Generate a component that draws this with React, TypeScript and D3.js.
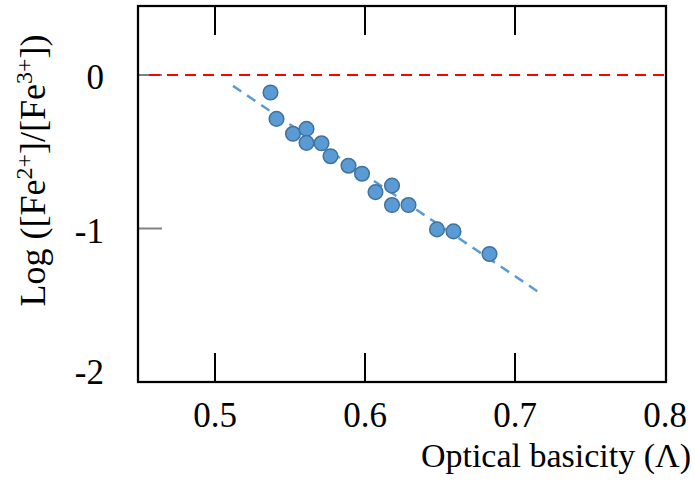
import React from "react";
import * as d3 from "d3";

// optical basicity (x) vs log([Fe2+]/[Fe3+]) (y)
const basicity = [
  0.537, 0.541, 0.552, 0.561, 0.561, 0.571, 0.577, 0.589, 0.598, 0.607,
  0.618, 0.618, 0.629, 0.648, 0.659, 0.683,
];
const logRatio = [
  -0.114, -0.286, -0.383, -0.351, -0.442, -0.445, -0.529, -0.591, -0.643,
  -0.763, -0.721, -0.847, -0.847, -1.006, -1.019, -1.166,
];

// dashed linear trend, drawn between these two end points
const trendX = [0.512, 0.716];
const trendY = [-0.071, -1.416];

// red reference line at log = 0
const refX = [0.456, 0.8];
const refY = [0, 0];

const xTicks = [0.5, 0.6, 0.7, 0.8];
const xTickLabels = ["0.5", "0.6", "0.7", "0.8"];
const yTicks = [0, -1, -2];
const yTickLabels = ["0", "-1", "-2"];

const W = 695;
const H = 486;
const plot = { left: 138, right: 666, top: 6, bottom: 382 };

export default function App() {
  // 0.5 -> 215px, 0.8 -> 665px
  const x = d3.scaleLinear().domain([0.5, 0.8]).range([215, 665]);
  // 0 -> 75px, -2 -> 382px
  const y = d3.scaleLinear().domain([0, -2]).range([75, 382]);

  const seg = d3
    .line<[number, number]>()
    .x((d) => x(d[0]))
    .y((d) => y(d[1]));

  const trendPath = seg(trendX.map((v, i) => [v, trendY[i]] as [number, number]));
  const refPath = seg(refX.map((v, i) => [v, refY[i]] as [number, number]));

  const font = "'Liberation Serif', 'Times New Roman', serif";

  return (
    <svg
      width={W}
      height={H}
      style={{ position: "absolute", left: 0, top: 0, background: "#fff" }}
    >
      {/* y ticks (grey, inward) */}
      {yTicks.map((t) => (
        <line
          key={"yt" + t}
          x1={plot.left}
          x2={plot.left + 24}
          y1={y(t)}
          y2={y(t)}
          stroke="#808080"
          strokeWidth={2}
        />
      ))}

      {/* x ticks top + bottom, inward */}
      {xTicks.slice(0, 3).map((t) => (
        <g key={"xt" + t}>
          <line
            x1={x(t)}
            x2={x(t)}
            y1={plot.bottom}
            y2={plot.bottom - 29}
            stroke="#000"
            strokeWidth={2}
          />
          <line
            x1={x(t)}
            x2={x(t)}
            y1={plot.top}
            y2={plot.top + 29}
            stroke="#000"
            strokeWidth={2}
          />
        </g>
      ))}

      {/* reference line */}
      <path
        d={refPath || ""}
        fill="none"
        stroke="#ff0000"
        strokeWidth={2}
        strokeDasharray="11,7"
      />

      {/* trend line */}
      <path
        d={trendPath || ""}
        fill="none"
        stroke="#5b9bd5"
        strokeWidth={2.5}
        strokeDasharray="10,7"
      />

      {/* points */}
      {basicity.map((b, i) => (
        <circle
          key={i}
          cx={x(b)}
          cy={y(logRatio[i])}
          r={7.3}
          fill="#5b9bd5"
          stroke="#41719c"
          strokeWidth={1.5}
        />
      ))}

      {/* frame */}
      <rect
        x={plot.left}
        y={plot.top}
        width={plot.right - plot.left}
        height={plot.bottom - plot.top}
        fill="none"
        stroke="#000"
        strokeWidth={2.25}
      />

      {/* x tick labels */}
      {xTicks.map((t, i) => (
        <text
          key={"xl" + t}
          x={x(t)}
          y={427}
          textAnchor="middle"
          fontFamily={font}
          fontSize={35}
          fill="#000"
        >
          {xTickLabels[i]}
        </text>
      ))}

      {/* y tick labels */}
      {yTicks.map((t, i) => (
        <text
          key={"yl" + t}
          x={104}
          y={Math.min(y(t) + 14, 384)}
          textAnchor="end"
          fontFamily={font}
          fontSize={35}
          fill="#000"
        >
          {yTickLabels[i]}
        </text>
      ))}

      {/* axis titles */}
      <text
        x={691}
        y={467}
        textAnchor="end"
        fontFamily={font}
        fontSize={34}
        fill="#000"
      >
        Optical basicity (Λ)
      </text>
      <text
        transform={`translate(45,${(28 + 313) / 2}) rotate(-90)`}
        textAnchor="middle"
        fontFamily={font}
        fontSize={36}
        fill="#000"
      >
        Log ([Fe
        <tspan dy={-13} fontSize={24}>
          2+
        </tspan>
        <tspan dy={13}>]/[Fe</tspan>
        <tspan dy={-13} fontSize={24}>
          3+
        </tspan>
        <tspan dy={13}>])</tspan>
      </text>
    </svg>
  );
}
